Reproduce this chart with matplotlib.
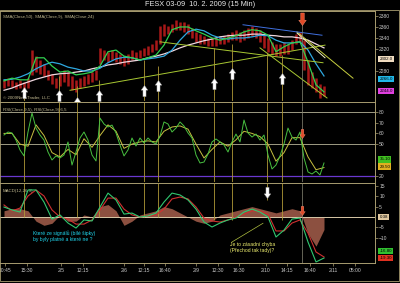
import matplotlib
matplotlib.use('Agg')
import matplotlib.pyplot as plt
from matplotlib.path import Path
from matplotlib.transforms import blended_transform_factory
from matplotlib.patches import Rectangle

plt.rcParams['font.family'] = ['Liberation Sans', 'DejaVu Sans']

# --- price bars (bar index 0..80), high / low ---
bar_hi = [2264, 2267, 2264, 2260, 2264, 2260, 2267, 2318, 2307, 2300,
          2293, 2282, 2275, 2267, 2275, 2282, 2278, 2271, 2264, 2267,
          2271, 2275, 2278, 2282, 2322, 2318, 2315, 2318, 2315, 2311,
          2307, 2311, 2318, 2315, 2318, 2322, 2325, 2329, 2336, 2362,
          2365, 2362, 2365, 2373, 2369, 2369, 2365, 2358, 2351, 2347,
          2344, 2340, 2340, 2340, 2344, 2344, 2347, 2351, 2355, 2351,
          2355, 2358, 2362, 2358, 2355, 2347, 2340, 2333, 2329, 2329,
          2333, 2329, 2336, 2347, 2351, 2336, 2300, 2278, 2267, 2256, 2253]
bar_lo = [2249, 2253, 2251, 2247, 2249, 2245, 2249, 2273, 2278, 2275,
          2271, 2264, 2256, 2249, 2253, 2260, 2253, 2245, 2242, 2249,
          2253, 2256, 2260, 2264, 2293, 2300, 2296, 2300, 2296, 2293,
          2289, 2293, 2300, 2300, 2304, 2307, 2309, 2315, 2318, 2329,
          2344, 2347, 2351, 2355, 2355, 2351, 2347, 2340, 2333, 2329,
          2329, 2325, 2325, 2325, 2329, 2329, 2333, 2336, 2336, 2333,
          2336, 2340, 2344, 2340, 2333, 2322, 2315, 2311, 2307, 2307,
          2311, 2311, 2318, 2329, 2333, 2282, 2255, 2249, 2242, 2231, 2234]

# --- moving averages, every second bar ---
sma9 = [2262, 2267, 2264, 2264, 2304, 2304, 2289, 2278, 2280, 2273,
        2275, 2278, 2289, 2315, 2318, 2307, 2304, 2300, 2304, 2309,
        2327, 2355, 2360, 2360, 2353, 2347, 2340, 2336, 2340, 2344,
        2351, 2355, 2353, 2345, 2315, 2324, 2331, 2333, 2296, 2255, 2242]
sma24 = [2264, 2265, 2269, 2275, 2284, 2291, 2296, 2293, 2287, 2284,
         2280, 2280, 2285, 2295, 2302, 2305, 2304, 2300, 2302, 2304,
         2307, 2318, 2336, 2351, 2356, 2353, 2345, 2340, 2338, 2340,
         2340, 2342, 2345, 2344, 2336, 2331, 2331, 2333, 2318, 2293, 2271]
sma50 = [2245, 2249, 2255, 2260, 2265, 2269, 2273, 2275, 2276, 2278,
         2280, 2284, 2287, 2291, 2293, 2296, 2298, 2300, 2304, 2307,
         2311, 2316, 2322, 2327, 2331, 2335, 2338, 2342, 2344, 2345,
         2345, 2347, 2347, 2345, 2344, 2342, 2342, 2340, 2336, 2329, 2322]

# --- RSI (every bar) and its average (every second bar) ---
rsi = [58.5, 61.3, 60.4, 53.8, 44.5, 38.9, 61.3, 79.1, 65.0, 58.5,
       53.8, 42.6, 35.1, 38.9, 37.0, 39.8, 52.0, 30.4, 42.6, 55.7,
       61.3, 53.8, 39.8, 34.2, 74.4, 68.8, 66.0, 67.8, 60.4, 49.1,
       38.9, 44.5, 55.7, 48.2, 55.7, 51.0, 55.7, 52.0, 50.1, 57.6,
       70.7, 68.8, 61.3, 65.0, 70.7, 66.9, 60.4, 55.7, 39.8, 32.3,
       33.2, 40.7, 52.0, 54.8, 52.0, 49.1, 42.6, 52.0, 59.4, 52.0,
       72.5, 60.4, 56.6, 59.4, 53.8, 58.5, 39.8, 26.7, 30.4, 38.9,
       50.1, 65.0, 56.6, 53.8, 61.3, 37.0, 23.9, 22.0, 24.8, 21.1, 32.3]
rsi_avg = [60, 60, 50, 48, 68, 58, 42, 38, 45, 40,
           55, 47, 58, 68, 62, 46, 50, 52, 53, 52,
           62, 66, 67, 64, 50, 37, 45, 52, 48, 54,
           62, 60, 57, 50, 34, 42, 56, 56, 38, 26, 28]

# --- MACD(12,26,9), every second bar ---
macd = [4.8, 3.4, 2.4, 13.0, 13.0, 7.2, -1.0, 1.0, -2.9, -5.3,
        -1.4, -1.9, 4.8, 11.5, 8.2, 1.4, 1.9, 0.0, 0.5, 1.9,
        7.2, 11.5, 10.6, 8.2, 3.8, -2.4, -4.8, -2.9, -1.4, -0.5,
        2.4, 3.8, 2.4, 0.0, -9.6, -6.3, -1.0, -0.5, -12.0, -21.6, -19.7]
macd_avg = [5.8, 2.9, 4.3, 10.1, 13.0, 10.1, 3.4, 0.0, -1.0, -3.4,
            -3.4, -1.4, 3.4, 9.1, 9.1, 3.8, 1.0, 0.0, 0.5, 1.0,
            3.8, 8.7, 9.6, 8.7, 4.8, -0.5, -1.9, -2.4, -1.4, 0.0,
            1.4, 2.9, 2.9, 1.4, -6.7, -6.7, -2.9, -1.4, -7.7, -16.8, -19.2]
macd_diff = [3, 4, 4, 3, -2, -4, -3, 1, -2, -2,
             1, 0, 5, 6, 3, -4, -2, 1, 2, 3,
             5, 4, 2, 0, -2, -3, -2, 1, 2, 3,
             4, 5, 4, 3, 2, 3, 4, 3, -8, -14, -6]

bars = list(range(len(bar_hi)))
half = list(range(0, len(bar_hi), 2))

# --- drawn objects ---
sig_x = [5, 13.75, 18.25, 23.75, 35, 38.5, 52.5, 57, 65.75, 69.5]
sig_top = [2249, 2271, 2253, 2264, 2300, 2289, 2322, 2329, 2313, 2309]
sig_end = [0, 0, 0, 0, 0, 0, -1.4, -1.4, 8, -1.4]
up_x = [5, 13.75, 18.25, 23.75, 35, 38.5, 52.5, 57, 69.5]
up_tip = [2251, 2245, 2233, 2245, 2255, 2264, 2267, 2285, 2276]
exit_x = 74.5

trend = [  # x0, p0, x1, p1, colour
    (16.5, 2245, 80.25, 2327, '#a8c832'),
    (39, 2333, 79.75, 2295, '#a8c832'),
    (64, 2322, 80.75, 2231, '#a8c832'),
    (73.25, 2351, 87.25, 2267, '#c8d040'),
    (73.25, 2349, 80.25, 2304, '#f0f0c0'),
    (59.75, 2364, 79.5, 2345, '#4070e0'),
]

tick_pos = [0.25, 5.75, 14.25, 19.75, 30, 35, 40.25, 48, 53.5, 58.75,
            65.5, 70.75, 76.5, 82.25, 87.75]
tick_lbl = ['10:45', '15:30', '2/5', '12:15', '2/6', '12:15', '16:40', '2/9',
            '12:30', '16:30', '2/10', '14:15', '16:40', '2/11', '05:00']

W, H = 400, 283
EDGE = '#a89c70'
TXT = '#c8c8c8'
SIG = '#b09a38'
fig = plt.figure(figsize=(4, 2.83), dpi=100, facecolor='black')
fig.text(0.5, 1 - 5 / H, 'FESX 03-09  10. 2. 2009 (15 Min)', ha='center',
         va='center', fontsize=5.3, color='#e8e8e8')
fig.add_artist(Rectangle((0.001, 1 - 281 / H), 0.997, 271 / H, transform=fig.transFigure,
                         fill=False, ec=EDGE, lw=0.6))


def panel(top_px, bot_px):
    ax = fig.add_axes([0, 1 - bot_px / H, 375 / W, (bot_px - top_px) / H], facecolor='black')
    ax.set_xlim(-1, 92.75)
    for s in ['left', 'bottom']:
        ax.spines[s].set_visible(False)
    for s in ['top', 'right']:
        ax.spines[s].set_color(EDGE)
        ax.spines[s].set_linewidth(0.7)
    ax.yaxis.tick_right()
    ax.tick_params(axis='y', colors=EDGE, labelcolor=TXT, labelsize=3.6, length=2,
                   width=0.5, pad=1)
    ax.set_xticks([])
    return ax


def tag(ax, y, txt, fc, tc='black'):
    tr = blended_transform_factory(ax.transAxes, ax.transData)
    ax.text(1.012, y, txt, transform=tr, fontsize=3.2, color=tc, va='center', ha='left',
            bbox=dict(boxstyle='square,pad=0.25', fc=fc, ec='none'), clip_on=False, zorder=6)


up_arrow = Path([(0, 0), (0.3, -0.42), (0.14, -0.42), (0.14, -1), (-0.14, -1), (-0.14, -0.42),
                 (-0.3, -0.42), (0, 0)],
                [Path.MOVETO] + [Path.LINETO] * 6 + [Path.CLOSEPOLY])
down_arrow = Path([(x, -y) for x, y in up_arrow.vertices], up_arrow.codes)

# ---------------- price ----------------
ax_p = panel(11, 101)
ax_p.set_ylim(2225.5, 2389)
ax_p.set_yticks([2380, 2360, 2340, 2320, 2280])
ax_p.vlines(bars, bar_lo, bar_hi, color='#a81818', lw=1.8, zorder=2)
ax_p.plot(half, sma50, color='#f0d8e0', lw=0.9, zorder=3)
ax_p.plot(half, sma24, color='#2ea8e0', lw=0.9, zorder=3)
ax_p.plot(half, sma9, color='#30d050', lw=0.9, zorder=3)
for x0, p0, x1, p1, c in trend:
    ax_p.plot([x0, x1], [p0, p1], color=c, lw=0.7, zorder=3)
ax_p.vlines(sig_x, 2225.5, sig_top, color=SIG, lw=0.6, zorder=4)
ax_p.vlines(exit_x, 2225.5, 2385, color='#8c8a78', lw=0.5, zorder=4)
ax_p.plot(up_x, up_tip, ls='none', marker=up_arrow, ms=16, mfc='white', mec='#909090',
          mew=0.3, clip_on=False, zorder=7)
ax_p.plot([exit_x], [2364], ls='none', marker=down_arrow, ms=18, mfc='#e04a28',
          mec='#ff9070', mew=0.3, zorder=7)
ax_p.text(0.008, 0.955, 'SMA(Close,50), SMA(Close,9), SMA(Close,24)', transform=ax_p.transAxes,
          fontsize=3.2, color='#c0b890', va='top')
ax_p.text(0.008, 0.01, '\u00a9 2009NinjaTrader, LLC', transform=ax_p.transAxes,
          fontsize=3.2, color='#c0b890', va='bottom')
tag(ax_p, 2302, '2302.0', '#f0dcc0')
tag(ax_p, 2266, '2266.0', '#20b8e8')
tag(ax_p, 2244, '2244.0', '#e040e0')

# ---------------- RSI ----------------
ax_r = panel(102, 182)
ax_r.set_ylim(14.5, 89.4)
ax_r.set_yticks([80, 70, 60, 50, 20])
ax_r.axhline(80, color='#b8b498', lw=0.6)
ax_r.axhline(50, color='#b8b498', lw=0.6)
ax_r.axhline(20, color='#6a38d0', lw=0.9)
for x in sig_x:
    ax_r.axvline(x, color=SIG, lw=0.6)
ax_r.axvline(exit_x, color='#8c8a78', lw=0.5)
ax_r.plot(half, rsi_avg, color='#c8c040', lw=0.7)
ax_r.plot(bars, rsi, color='#48c040', lw=0.7)
ax_r.plot([exit_x], [55.7], ls='none', marker=down_arrow, ms=13, mfc='#e04a28',
          mec='#ff9070', mew=0.3, zorder=7)
ax_r.text(0.008, 0.93, 'RSI(Close,9,5), RSI(Close,9),6,5', transform=ax_r.transAxes,
          fontsize=3.2, color='#c0b890', va='top')
tag(ax_r, 35.6, '35.10', '#40c020')
tag(ax_r, 29.0, '29.50', '#e0b020')

# ---------------- MACD ----------------
ax_m = panel(183, 263)
ax_m.set_ylim(-22.1, 16.35)
ax_m.set_yticks([15, 10, 5, -5, -10])
ax_m.spines['bottom'].set_visible(True)
ax_m.spines['bottom'].set_color(EDGE)
ax_m.spines['bottom'].set_linewidth(0.7)
ax_m.set_xticks(tick_pos)
ax_m.set_xticklabels(tick_lbl)
ax_m.tick_params(axis='x', colors=EDGE, labelcolor=TXT, labelsize=3.6, length=2,
                 width=0.5, pad=1.5)
ax_m.fill_between(half, 0, macd_diff, color='#9c5a48', alpha=0.9, lw=0, zorder=2)
ax_m.axhline(0, color='#d8c8a8', lw=0.7, zorder=3)
ax_m.vlines(sig_x, sig_end, 16.35, color=SIG, lw=0.6, zorder=3)
ax_m.axvline(exit_x, color='#8c8a78', lw=0.5, zorder=3)
ax_m.plot(half, macd_avg, color='#d03030', lw=0.8, zorder=4)
ax_m.plot(half, macd, color='#30c870', lw=0.8, zorder=4)
ax_m.plot([65.75], [9.1], ls='none', marker=down_arrow, ms=16, mfc='white', mec='#909090',
          mew=0.3, zorder=7)
ax_m.plot([exit_x], [1.0], ls='none', marker=down_arrow, ms=13, mfc='#e04a28',
          mec='#ff9070', mew=0.3, zorder=7)
ax_m.plot([57, 64.75], [-12.0, -3.0], color='#b0c040', lw=0.5, zorder=4)
ax_m.text(0.008, 0.93, 'MACD(12,26,9)', transform=ax_m.transAxes,
          fontsize=3.2, color='#c0b890', va='top')
ax_m.text(7.25, -9.1, 'Které ze signálů (bílé šipky)\nby byly platné a které ne ?',
          fontsize=3.6, color='#20d8f0', va='center', ha='left', linespacing=1.3)
ax_m.text(56.5, -14.8, 'Je to zásadní chyba\n(Přechod tak tady)?',
          fontsize=3.6, color='#f0f070', va='center', ha='left', linespacing=1.3)
tag(ax_m, 0.0, '0.38', '#e0c8a0')
tag(ax_m, -16.3, '-16.80', '#30c030')
tag(ax_m, -19.8, '-19.30', '#e03020')

fig.savefig('out.png', dpi=100, facecolor='black')
